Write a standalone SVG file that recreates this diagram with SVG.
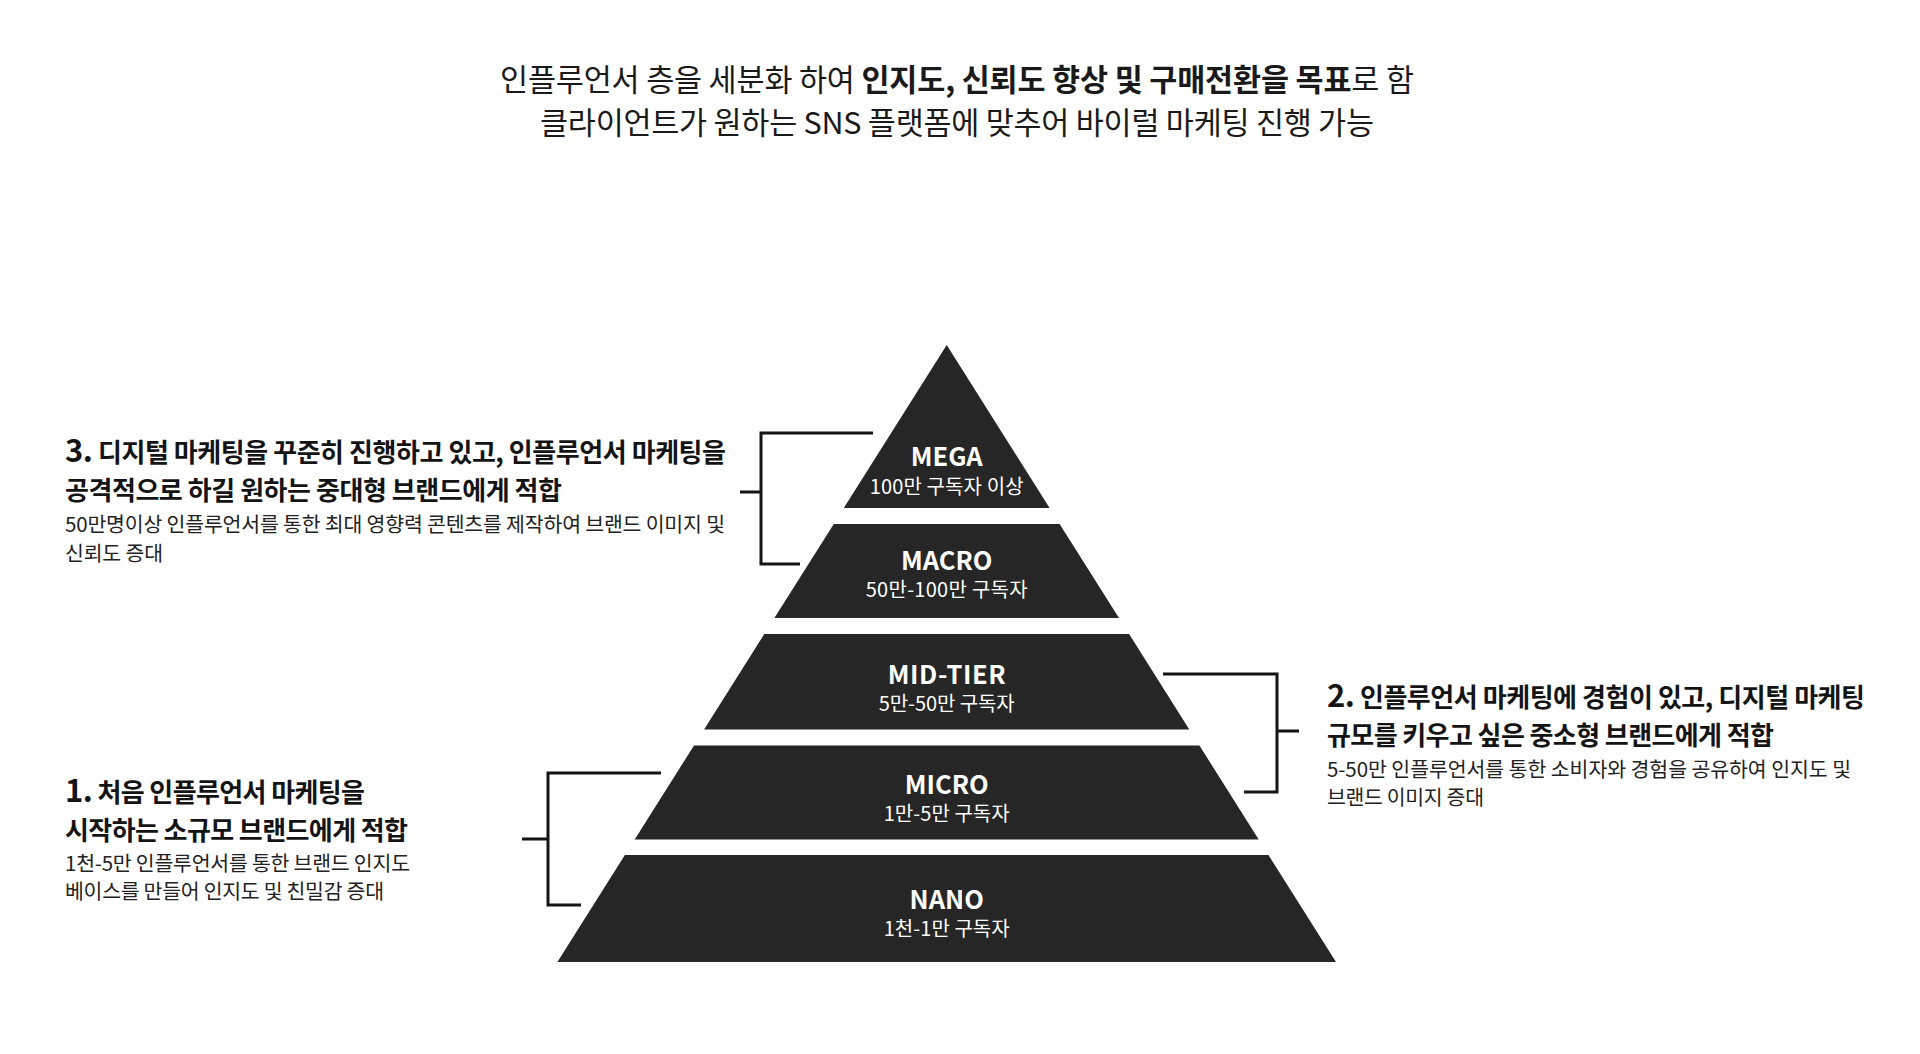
<svg xmlns="http://www.w3.org/2000/svg" width="1920" height="1054" viewBox="0 0 1920 1054">
<style>
text { font-family: "Noto Sans CJK KR", "Noto Sans", sans-serif; }
.title { font-size: 30.5px; fill: #1a1a1a; text-anchor: middle; }
.b { font-weight: 700; }
.tier { fill: #262626; }
.lbl { font-size: 25.5px; font-weight: 700; fill: #ffffff; text-anchor: middle; }
.sub { font-size: 20px; fill: #ffffff; text-anchor: middle; }
.head { font-size: 26px; font-weight: 700; fill: #141414; }
.num { font-size: 31px; }
.body { font-size: 20.5px; fill: #222222; }
.conn { fill: none; stroke: #141414; stroke-width: 3; }
</style>
<rect width="1920" height="1054" fill="#ffffff"/>
<g id="title">
<text class="title" x="957" y="91" textLength="914" lengthAdjust="spacing">인플루언서 층을 세분화 하여 <tspan class="b">인지도, 신뢰도 향상 및 구매전환을 목표</tspan>로 함</text>
<text class="title" x="957" y="134" textLength="834" lengthAdjust="spacing">클라이언트가 원하는 SNS 플랫폼에 맞추어 바이럴 마케팅 진행 가능</text>
</g>
<g id="mega">
<polygon class="tier" points="946.7,345 1049.6,508 843.8,508"/>
<text class="lbl" x="946.7" y="466">MEGA</text>
<text class="sub" x="946.7" y="494" textLength="154" lengthAdjust="spacing">100만 구독자 이상</text>
</g>
<g id="macro">
<polygon class="tier" points="833.8,524 1059.6,524 1119,618 774.4,618"/>
<text class="lbl" x="946.7" y="570">MACRO</text>
<text class="sub" x="946.7" y="597" textLength="162" lengthAdjust="spacing">50만-100만 구독자</text>
</g>
<g id="mid-tier">
<polygon class="tier" points="764.3,634 1129.1,634 1189.3,729.5 704.1,729.5"/>
<text class="lbl" x="946.7" y="684" textLength="118" lengthAdjust="spacing">MID-TIER</text>
<text class="sub" x="946.7" y="711" textLength="136" lengthAdjust="spacing">5만-50만 구독자</text>
</g>
<g id="micro">
<polygon class="tier" points="694,745.5 1199.4,745.5 1258.7,839.5 634.7,839.5"/>
<text class="lbl" x="946.7" y="794">MICRO</text>
<text class="sub" x="946.7" y="821" textLength="126" lengthAdjust="spacing">1만-5만 구독자</text>
</g>
<g id="nano">
<polygon class="tier" points="624.9,855 1268.5,855 1336,962 557.4,962"/>
<text class="lbl" x="946.7" y="909">NANO</text>
<text class="sub" x="946.7" y="936" textLength="126" lengthAdjust="spacing">1천-1만 구독자</text>
</g>
<g id="note-3">
<text class="head" x="65" y="462" textLength="661" lengthAdjust="spacing"><tspan class="num">3.</tspan> 디지털 마케팅을 꾸준히 진행하고 있고, 인플루언서 마케팅을</text>
<text class="head" x="65" y="500" textLength="497" lengthAdjust="spacing">공격적으로 하길 원하는 중대형 브랜드에게 적합</text>
<text class="body" x="65" y="531.5" textLength="660" lengthAdjust="spacing">50만명이상 인플루언서를 통한 최대 영향력 콘텐츠를 제작하여 브랜드 이미지 및</text>
<text class="body" x="65" y="560.5" textLength="98" lengthAdjust="spacing">신뢰도 증대</text>
</g>
<g id="note-2">
<text class="head" x="1327" y="707" textLength="538" lengthAdjust="spacing"><tspan class="num">2.</tspan> 인플루언서 마케팅에 경험이 있고, 디지털 마케팅</text>
<text class="head" x="1327" y="745" textLength="447" lengthAdjust="spacing">규모를 키우고 싶은 중소형 브랜드에게 적합</text>
<text class="body" x="1327" y="776.5" textLength="524" lengthAdjust="spacing">5-50만  인플루언서를 통한 소비자와 경험을 공유하여 인지도 및</text>
<text class="body" x="1327" y="804.5" textLength="157" lengthAdjust="spacing">브랜드 이미지 증대</text>
</g>
<g id="note-1">
<text class="head" x="65" y="802" textLength="300" lengthAdjust="spacing"><tspan class="num">1.</tspan> 처음 인플루언서 마케팅을</text>
<text class="head" x="65" y="840" textLength="343" lengthAdjust="spacing">시작하는 소규모 브랜드에게 적합</text>
<text class="body" x="65" y="870.5" textLength="345" lengthAdjust="spacing">1천-5만 인플루언서를 통한 브랜드 인지도</text>
<text class="body" x="65" y="898.5" textLength="319" lengthAdjust="spacing">베이스를 만들어 인지도 및 친밀감 증대</text>
</g>
<g id="connectors">
<path class="conn" d="M873,433 H761 V564 H800 M761,492 H740"/>
<path class="conn" d="M1163,674 H1277 V792 H1244 M1277,731 H1299"/>
<path class="conn" d="M661,773 H548 V905 H581 M548,839 H522"/>
</g>
</svg>
